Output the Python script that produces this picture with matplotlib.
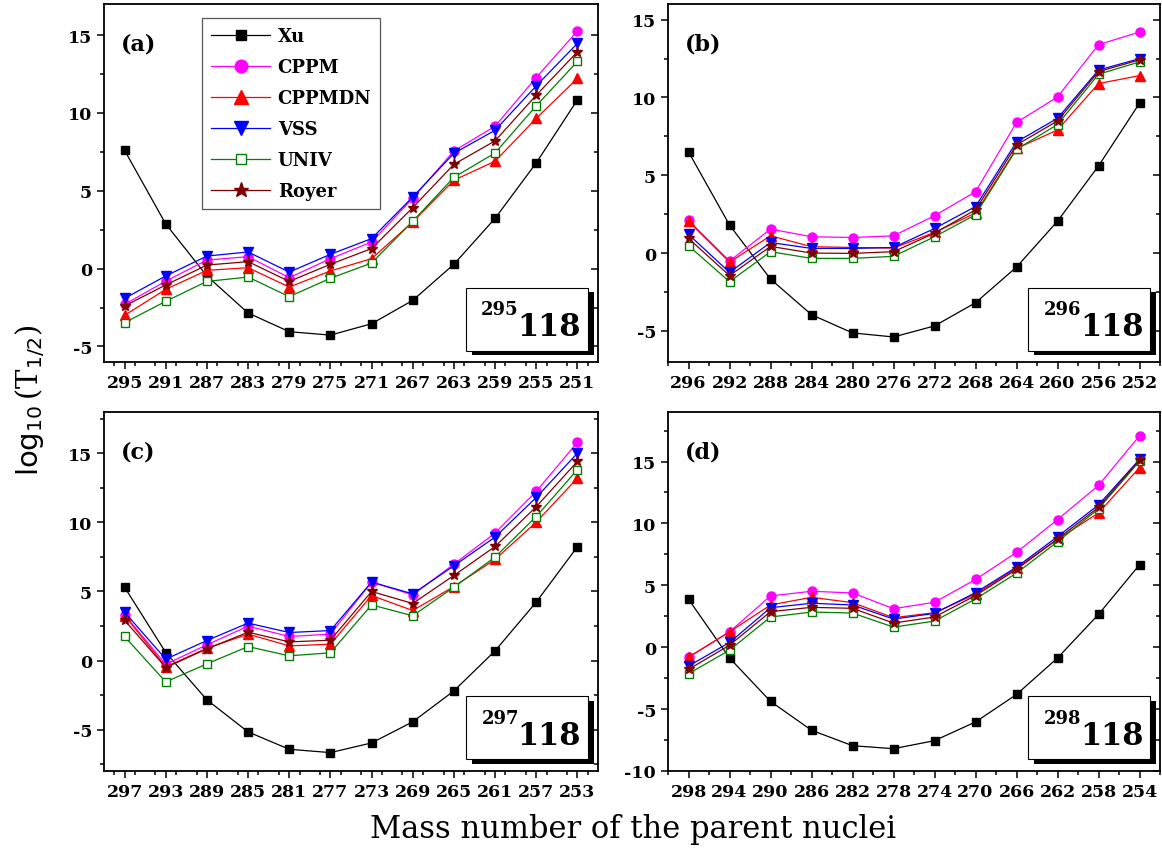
import matplotlib
matplotlib.use("Agg")
import matplotlib.pyplot as plt
from matplotlib.ticker import MultipleLocator

plt.rcParams["font.family"] = "DejaVu Serif"
plt.rcParams["axes.unicode_minus"] = False

# mass numbers of the parent nuclei for each isotope
mass_a = [295, 291, 287, 283, 279, 275, 271, 267, 263, 259, 255, 251]
mass_b = [296, 292, 288, 284, 280, 276, 272, 268, 264, 260, 256, 252]
mass_c = [297, 293, 289, 285, 281, 277, 273, 269, 265, 261, 257, 253]
mass_d = [298, 294, 290, 286, 282, 278, 274, 270, 266, 262, 258, 254]

# (a) 295-118
xu_a     = [7.60, 2.87, -0.47, -2.85, -4.05, -4.27, -3.54, -2.04, 0.28, 3.23, 6.79, 10.84]
cppm_a   = [-2.30, -0.80, 0.55, 0.77, -0.58, 0.64, 1.71, 4.52, 7.56, 9.15, 12.28, 15.26]
cppmdn_a = [-3.00, -1.33, -0.11, 0.06, -1.18, -0.15, 0.64, 3.00, 5.68, 6.90, 9.65, 12.22]
vss_a    = [-1.91, -0.47, 0.81, 1.07, -0.22, 0.92, 1.93, 4.60, 7.41, 8.89, 11.74, 14.47]
univ_a   = [-3.47, -2.10, -0.82, -0.54, -1.80, -0.62, 0.36, 3.04, 5.87, 7.43, 10.46, 13.31]
royer_a  = [-2.40, -1.05, 0.23, 0.45, -0.82, 0.28, 1.29, 3.92, 6.70, 8.21, 11.14, 13.93]

# (b) 296-118
xu_b     = [6.50, 1.80, -1.67, -3.96, -5.13, -5.39, -4.68, -3.19, -0.90, 2.05, 5.60, 9.63]
cppm_b   = [2.10, -0.51, 1.54, 1.05, 1.00, 1.11, 2.40, 3.94, 8.39, 10.03, 13.39, 14.20]
cppmdn_b = [2.03, -0.58, 1.11, 0.41, 0.36, 0.32, 1.33, 2.57, 6.72, 7.91, 10.89, 11.40]
vss_b    = [1.20, -1.24, 0.68, 0.30, 0.30, 0.36, 1.58, 2.99, 7.14, 8.66, 11.76, 12.49]
univ_b   = [0.47, -1.84, 0.09, -0.34, -0.34, -0.21, 1.05, 2.46, 6.67, 8.26, 11.49, 12.28]
royer_b  = [0.94, -1.45, 0.43, 0.00, -0.02, 0.09, 1.28, 2.78, 6.95, 8.49, 11.66, 12.41]

# (c) 297-118
xu_c     = [5.31, 0.58, -2.85, -5.17, -6.43, -6.67, -5.97, -4.44, -2.20, 0.70, 4.23, 8.24]
cppm_c   = [3.31, -0.27, 1.14, 2.49, 1.74, 1.91, 5.68, 4.76, 6.98, 9.23, 12.25, 15.80]
cppmdn_c = [3.26, -0.46, 0.89, 1.91, 1.06, 1.18, 4.71, 3.62, 5.36, 7.32, 10.02, 13.21]
vss_c    = [3.50, 0.10, 1.45, 2.71, 2.03, 2.17, 5.68, 4.83, 6.86, 8.94, 11.81, 15.02]
univ_c   = [1.74, -1.55, -0.24, 1.01, 0.34, 0.56, 4.03, 3.24, 5.31, 7.49, 10.43, 13.82]
royer_c  = [2.92, -0.51, 0.85, 2.05, 1.35, 1.47, 5.00, 4.13, 6.16, 8.26, 11.14, 14.42]

# (d) 298-118
xu_d     = [3.87, -0.87, -4.38, -6.71, -7.96, -8.20, -7.55, -6.04, -3.82, -0.87, 2.65, 6.66]
cppm_d   = [-0.81, 1.24, 4.14, 4.52, 4.38, 3.11, 3.63, 5.47, 7.66, 10.31, 13.07, 17.08]
cppmdn_d = [-0.81, 1.24, 3.41, 4.03, 3.60, 2.38, 2.79, 4.28, 6.39, 8.71, 10.85, 14.51]
vss_d    = [-1.52, 0.38, 3.19, 3.55, 3.41, 2.27, 2.73, 4.41, 6.47, 8.93, 11.50, 15.18]
univ_d   = [-2.14, -0.24, 2.44, 2.84, 2.76, 1.62, 2.11, 3.90, 5.98, 8.52, 11.18, 15.02]
royer_d  = [-1.79, 0.16, 2.87, 3.22, 3.14, 1.95, 2.44, 4.17, 6.28, 8.74, 11.31, 15.13]

series_names = ["Xu", "CPPM", "CPPMDN", "VSS", "UNIV", "Royer"]
styles = [dict(color="black", marker="s", ms=5.5, mfc="black"),
          dict(color="#FF00FF", marker="o", ms=6.5, mfc="#FF00FF"),
          dict(color="#FF0000", marker="^", ms=7, mfc="#FF0000"),
          dict(color="#0000FF", marker="v", ms=7, mfc="#0000FF"),
          dict(color="#008000", marker="s", ms=5.5, mfc="white"),
          dict(color="#800000", marker="*", ms=8, mfc="#800000")]

panels = [
    ("(a)", "295", mass_a, [xu_a, cppm_a, cppmdn_a, vss_a, univ_a, royer_a], (-6, 17)),
    ("(b)", "296", mass_b, [xu_b, cppm_b, cppmdn_b, vss_b, univ_b, royer_b], (-7, 16)),
    ("(c)", "297", mass_c, [xu_c, cppm_c, cppmdn_c, vss_c, univ_c, royer_c], (-8, 18)),
    ("(d)", "298", mass_d, [xu_d, cppm_d, cppmdn_d, vss_d, univ_d, royer_d], (-10, 19)),
]
rects = [[0.0895, 0.5744, 0.4251, 0.4197],
         [0.5749, 0.5744, 0.4234, 0.4197],
         [0.0895, 0.0950, 0.4251, 0.4208],
         [0.5749, 0.0950, 0.4234, 0.4208]]

fig = plt.figure(figsize=(11.62, 8.53), dpi=100)
for k, (lab, iso, mass, vals, ylim) in enumerate(panels):
    ax = fig.add_axes(rects[k])
    for name, y, st in zip(series_names, vals, styles):
        ax.plot(mass, y, lw=0.9, mec=st["color"], mew=1.0, label=name, **st)
    ax.set_xlim(mass[0] + 2, mass[-1] - 2)
    ax.set_ylim(*ylim)
    ax.set_xticks(mass)
    ax.xaxis.set_minor_locator(MultipleLocator(2))
    ax.yaxis.set_major_locator(MultipleLocator(5))
    ax.yaxis.set_minor_locator(MultipleLocator(2.5))
    ax.tick_params(which="both", direction="out", right=True, top=False, width=1.1)
    ax.tick_params(which="major", length=5, labelsize=12.5)
    ax.tick_params(which="minor", length=3)
    for lbl in ax.get_xticklabels() + ax.get_yticklabels():
        lbl.set_fontweight("bold")
    # right side ticks point inward
    for t in ax.yaxis.get_major_ticks() + ax.yaxis.get_minor_ticks():
        t.tick2line.set_marker(matplotlib.lines.TICKLEFT)
    for sp in ax.spines.values():
        sp.set_linewidth(1.3)
    ax.text(0.035, 0.89, lab, transform=ax.transAxes, fontsize=16, fontweight="bold",
            ha="left", va="center")
    # nuclide label box with shadow
    bx0, by0, bw, bh = 0.732, 0.032, 0.248, 0.176
    ax.add_patch(plt.Rectangle((bx0 + 0.012, by0 - 0.013), bw, bh, transform=ax.transAxes,
                               fc="black", ec="none", zorder=5, clip_on=False))
    ax.add_patch(plt.Rectangle((bx0, by0), bw, bh, transform=ax.transAxes,
                               fc="white", ec="black", lw=0.8, zorder=6, clip_on=False))
    ax.text(bx0 + 0.108, by0 + 0.115, iso, transform=ax.transAxes, fontsize=13,
            fontweight="bold", ha="right", va="center", zorder=7)
    ax.text(bx0 + 0.105, by0 + 0.066, "118", transform=ax.transAxes, fontsize=22,
            fontweight="bold", ha="left", va="center", zorder=7)
    if k == 0:
        leg = ax.legend(loc="upper left", bbox_to_anchor=(0.198, 0.961), fancybox=False,
                        edgecolor="#555555", framealpha=1, handlelength=3.3,
                        prop={"weight": "bold", "size": 13}, borderpad=0.5,
                        labelspacing=0.72, handletextpad=0.4, borderaxespad=0,
                        markerscale=1.4)
        leg.get_frame().set_linewidth(0.9)

fig.text(0.026, 0.53, r"$\log_{10}$(T$_{1/2}$)", rotation=90, fontsize=21,
         ha="center", va="center")
fig.text(0.545, 0.027, "Mass number of the parent nuclei", fontsize=22,
         ha="center", va="center")

fig.savefig("out.png", dpi=100)
